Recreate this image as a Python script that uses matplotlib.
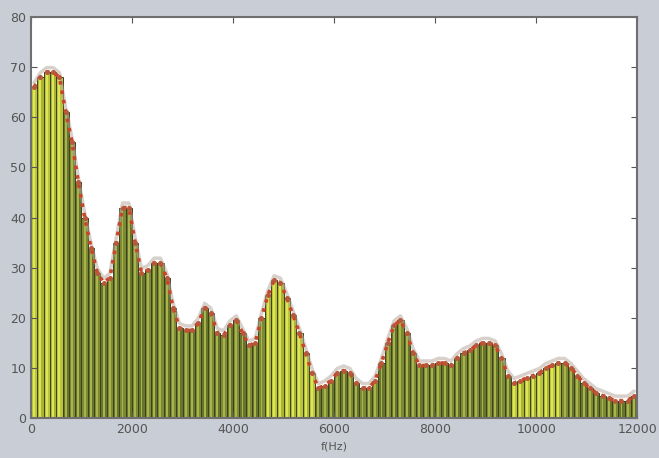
import numpy as np
import matplotlib.pyplot as plt

# ---------------- DATA ----------------
BIN_HZ = 125
levels = [66, 68, 69, 69, 68, 61, 55, 47, 40, 34,
          29, 27, 28, 35, 42, 42, 35, 29, 29.5, 31,
          31, 28, 22, 18, 17.5, 17.5, 19, 22, 21, 17,
          16.5, 18.5, 19.5, 17, 14.5, 15, 20, 24.5, 27.5, 27,
          24, 20.5, 17, 13, 9, 6, 6.5, 7.5, 9, 9.5,
          9, 7, 6, 6, 7.5, 11, 15, 18.5, 19.5, 17,
          13, 10.5, 10.5, 10.5, 11, 11, 10.5, 12, 13, 13.5,
          14.5, 15, 15, 14.5, 12, 8.5, 7, 7.5, 8, 8.5,
          9, 10, 10.5, 11, 11, 10, 8.5, 7, 6, 5,
          4.5, 4, 3.5, 3.5, 3.5, 4.5]
# frequency ranges where the bars look bright yellow
bright_bands = [(0, 625), (4625, 5625), (9500, 10500)]

xticks = [0, 2000, 4000, 6000, 8000, 10000, 12000]
yticks = [0, 10, 20, 30, 40, 50, 60, 70, 80]

# --------------- PLOT ----------------
freqs = np.arange(len(levels)) * BIN_HZ
centers = freqs + BIN_HZ / 2

colors, stripes = [], []
for i, f in enumerate(centers):
    bright = any(lo <= f < hi for lo, hi in bright_bands)
    if bright:
        colors.append("#bcc53a" if i % 2 == 0 else "#aab236")
        stripes.append("#dfe655")
    else:
        colors.append("#7d8a34" if i % 2 == 0 else "#66742c")
        stripes.append("#a9b44a")

fig = plt.figure(figsize=(6.59, 4.58), dpi=100, facecolor="#c9cdd5")
ax = fig.add_axes([0.047, 0.087, 0.92, 0.876])
ax.set_facecolor("white")

ax.bar(freqs, levels, width=BIN_HZ, align="edge", color=colors,
       edgecolor="#3b4222", linewidth=0.7)
# lighter stripe inside each bar
ax.bar(centers, np.array(levels) - 0.3, width=BIN_HZ * 0.3, color=stripes,
       linewidth=0)

# halo and red dotted envelope along the bar tops
ax.plot(centers, np.array(levels) + 0.9, color="#b8aaa0", lw=2.5, alpha=0.55,
        solid_capstyle="round")
ax.plot(centers, levels, color="#c9452a", lw=2.6, ls=":", marker="o",
        markersize=2.6, markerfacecolor="#b8583a", markeredgecolor="#b8583a")

ax.set_xlim(0, 12000)
ax.set_ylim(0, 80)
ax.set_xticks(xticks)
ax.set_yticks(yticks)
ax.tick_params(axis="both", direction="in", labelsize=9, colors="#555555",
               length=4, top=True, right=True)
for s in ax.spines.values():
    s.set_color("#6f6f6f")
    s.set_linewidth(1.5)

ax.set_xlabel("f(Hz)", fontsize=8, color="#555555", labelpad=4)

plt.savefig("out.png", dpi=100, facecolor=fig.get_facecolor())
